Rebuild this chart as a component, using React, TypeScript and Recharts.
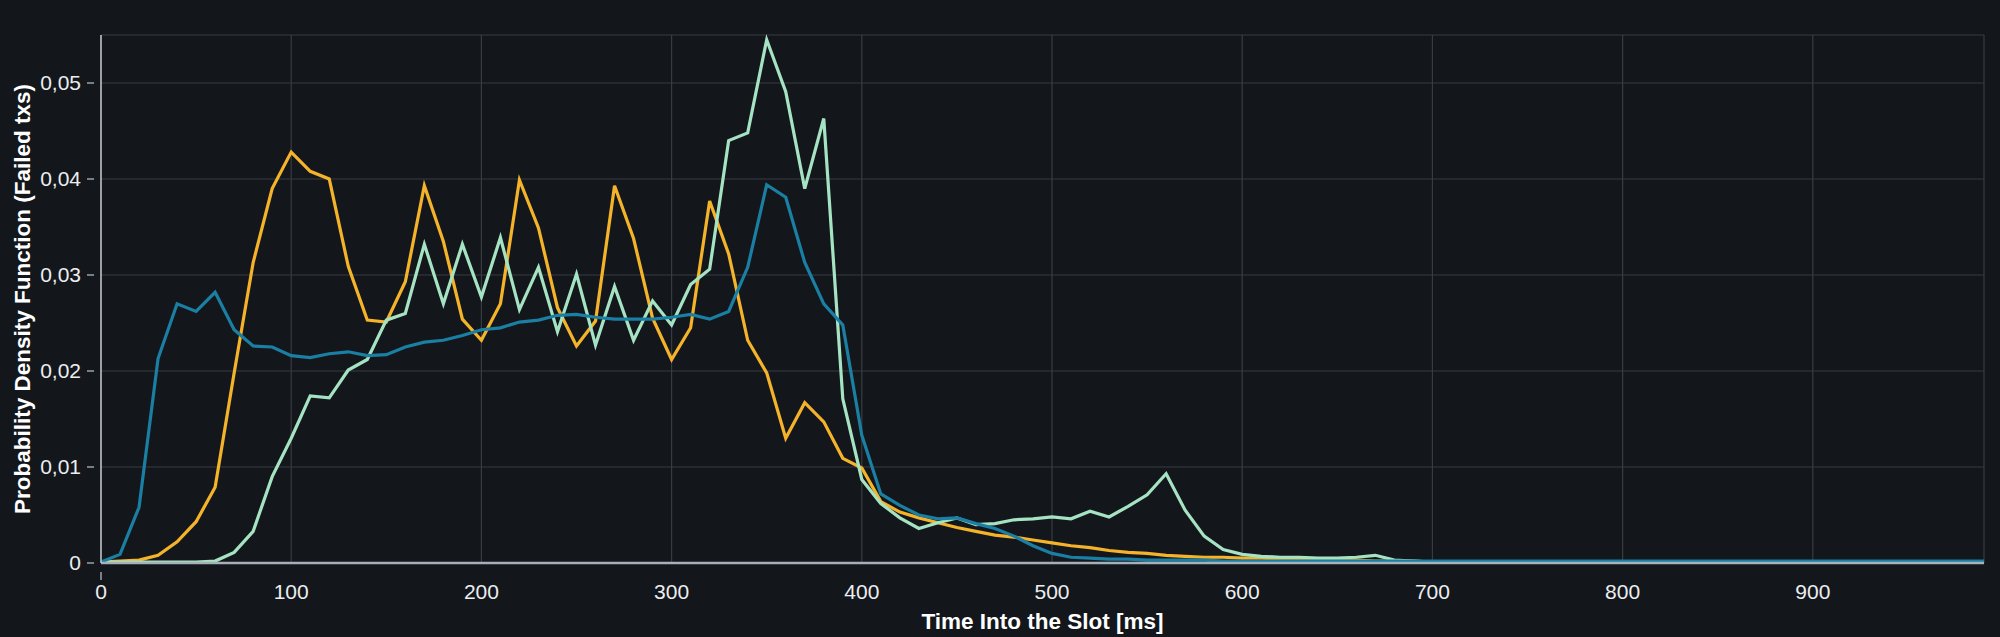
import React from "react";
import { CartesianGrid, Label, Line, LineChart, XAxis, YAxis } from "recharts";

// time bins, 10 ms wide
const timeMs = [
  0, 10, 20, 30, 40, 50, 60, 70, 80, 90,
  100, 110, 120, 130, 140, 150, 160, 170, 180, 190,
  200, 210, 220, 230, 240, 250, 260, 270, 280, 290,
  300, 310, 320, 330, 340, 350, 360, 370, 380, 390,
  400, 410, 420, 430, 440, 450, 460, 470, 480, 490,
  500, 510, 520, 530, 540, 550, 560, 570, 580, 590,
  600, 610, 620, 630, 640, 650, 660, 670, 680, 690,
  700, 710, 720, 730, 740, 750, 760, 770, 780, 790,
  800, 810, 820, 830, 840, 850, 860, 870, 880, 890,
  900, 910, 920, 930, 940, 950, 960, 970, 980, 990,
];

const orangeSeries = [
  0.0001, 0.0002, 0.0003, 0.0008, 0.0022, 0.0043, 0.0079, 0.0198, 0.0313, 0.039,
  0.0428, 0.0408, 0.04, 0.0309, 0.0253, 0.0251, 0.0293, 0.0393, 0.0335, 0.0254,
  0.0232, 0.027, 0.0399, 0.0349, 0.0266, 0.0226, 0.0252, 0.0393, 0.0338, 0.0255,
  0.0212, 0.0245, 0.0377, 0.0322, 0.0232, 0.0198, 0.013, 0.0167, 0.0147, 0.0109,
  0.0099, 0.0064, 0.0053, 0.0047, 0.0042, 0.0037, 0.0033, 0.0029, 0.0027, 0.0024,
  0.0021, 0.0018, 0.0016, 0.0013, 0.0011, 0.001, 0.0008, 0.0007, 0.0006, 0.0006,
  0.0005, 0.0005, 0.0004, 0.0004, 0.0003, 0.0003, 0.0003, 0.0002, 0.0002, 0.0002,
  0.0001, 0.0001, 0.0001, 0.0001, 0.0001, 0.0001, 0.0001, 0.0001, 0.0001, 0.0001,
  0.0001, 0.0001, 0.0001, 0.0001, 0.0001, 0.0001, 0.0001, 0.0001, 0.0001, 0.0001,
  0.0001, 0.0001, 0.0001, 0.0001, 0.0001, 0.0001, 0.0001, 0.0001, 0.0001, 0.0001,
];

const greenSeries = [
  0.0001, 0.0001, 0.0001, 0.0001, 0.0001, 0.0001, 0.0002, 0.0011, 0.0033, 0.009,
  0.013, 0.0174, 0.0172, 0.0201, 0.0212, 0.0253, 0.026, 0.0332, 0.027, 0.0332,
  0.0277, 0.0339, 0.0264, 0.0308, 0.0241, 0.0301, 0.0227, 0.0288, 0.0232, 0.0273,
  0.0248, 0.029, 0.0306, 0.044, 0.0448, 0.0545, 0.0491, 0.039, 0.0463, 0.0171,
  0.0087, 0.0062, 0.0047, 0.0036, 0.0042, 0.0047, 0.004, 0.0041, 0.0045, 0.0046,
  0.0048, 0.0046, 0.0054, 0.0048, 0.0059, 0.0071, 0.0093, 0.0055, 0.0028, 0.0014,
  0.0009, 0.0007, 0.0006, 0.0006, 0.0005, 0.0005, 0.0006, 0.0008, 0.0003, 0.0002,
  0.0001, 0.0001, 0.0001, 0.0001, 0.0001, 0.0001, 0.0001, 0.0001, 0.0001, 0.0001,
  0.0001, 0.0001, 0.0001, 0.0001, 0.0001, 0.0001, 0.0001, 0.0001, 0.0001, 0.0001,
  0.0001, 0.0001, 0.0001, 0.0001, 0.0001, 0.0001, 0.0001, 0.0001, 0.0001, 0.0001,
];

const blueSeries = [
  0.0001, 0.0009, 0.0058, 0.0213, 0.027, 0.0262, 0.0282, 0.0243, 0.0226, 0.0225,
  0.0216, 0.0214, 0.0218, 0.022, 0.0216, 0.0217, 0.0225, 0.023, 0.0232, 0.0237,
  0.0243, 0.0245, 0.0251, 0.0253, 0.0258, 0.0259, 0.0256, 0.0254, 0.0254, 0.0254,
  0.0256, 0.0259, 0.0254, 0.0262, 0.0308, 0.0394, 0.0381, 0.0313, 0.027, 0.0248,
  0.0133, 0.0072, 0.006, 0.005, 0.0046, 0.0047, 0.0041, 0.0036, 0.0028, 0.0018,
  0.001, 0.0006, 0.0005, 0.0004, 0.0004, 0.0003, 0.0003, 0.0003, 0.0003, 0.0002,
  0.0002, 0.0002, 0.0002, 0.0002, 0.0002, 0.0002, 0.0002, 0.0002, 0.0002, 0.0002,
  0.0002, 0.0002, 0.0002, 0.0002, 0.0002, 0.0002, 0.0002, 0.0002, 0.0002, 0.0002,
  0.0002, 0.0002, 0.0002, 0.0002, 0.0002, 0.0002, 0.0002, 0.0002, 0.0002, 0.0002,
  0.0002, 0.0002, 0.0002, 0.0002, 0.0002, 0.0002, 0.0002, 0.0002, 0.0002, 0.0002,
];

const xTicks = [0, 100, 200, 300, 400, 500, 600, 700, 800, 900];
const yTicks = [0, 0.01, 0.02, 0.03, 0.04, 0.05];

const data = timeMs.map((t, i) => ({
  t,
  orange: orangeSeries[i],
  green: greenSeries[i],
  blue: blueSeries[i],
}));

const FONT = '"Liberation Sans", Arial, Helvetica, sans-serif';
const TEXT = "#eceef0";

const fmtY = (v: number) => (v === 0 ? "0" : v.toFixed(2).replace(".", ","));

const XTick = (props: any) => {
  const { x, y, payload } = props;
  return (
    <g>
      {payload.value === 0 && (
        <line x1={x} x2={x} y1={y + 1} y2={y + 9} stroke="#9aa3ab" strokeWidth={1.5} />
      )}
      <text x={x} y={y + 28} textAnchor="middle" fill={TEXT} fontSize={21} fontFamily={FONT}>
        {payload.value}
      </text>
    </g>
  );
};

const YTick = (props: any) => {
  const { x, y, payload } = props;
  return (
    <g>
      <line x1={x - 6} x2={x + 1} y1={y} y2={y} stroke="#9aa3ab" strokeWidth={1.5} />
      <text x={x - 12} y={y} dy="0.35em" textAnchor="end" fill={TEXT} fontSize={21} fontFamily={FONT}>
        {fmtY(payload.value)}
      </text>
    </g>
  );
};

export default function App() {
  return (
    <div style={{ position: "absolute", left: 0, top: 0, width: 2000, height: 637, background: "#13171c" }}>
      <LineChart width={2000} height={637} data={data} margin={{ top: 35, right: 16, bottom: 0, left: 0 }}>
        <CartesianGrid stroke="#383d43" strokeWidth={1.2} />
        <XAxis
          dataKey="t"
          type="number"
          domain={[0, 990]}
          ticks={xTicks}
          height={74}
          tickSize={6}
          tickMargin={2}
          tickLine={false}
          axisLine={{ stroke: "#a6b0b8", strokeWidth: 2.5 }}
          tick={<XTick />}
        >
          <Label
            content={(p: any) => (
              <text
                x={p.viewBox.x + p.viewBox.width / 2}
                y={p.viewBox.y + 66}
                textAnchor="middle"
                fill="#ffffff"
                fontSize={22.5}
                fontWeight="bold"
                fontFamily={FONT}
              >
                Time Into the Slot [ms]
              </text>
            )}
          />
        </XAxis>
        <YAxis
          type="number"
          domain={[0, 0.055]}
          ticks={yTicks}
          width={101}
          tickSize={6}
          tickMargin={2}
          tickLine={false}
          axisLine={{ stroke: "#c3c9ce", strokeWidth: 1.5 }}
          tick={<YTick />}
        >
          <Label
            content={(p: any) => {
              const cx = 22;
              const cy = p.viewBox.y + p.viewBox.height / 2;
              return (
                <text
                  x={cx}
                  y={cy}
                  dy="0.35em"
                  transform={`rotate(-90 ${cx} ${cy})`}
                  textAnchor="middle"
                  fill="#ffffff"
                  fontSize={22.5}
                  fontWeight="bold"
                  fontFamily={FONT}
                >
                  Probability Density Function (Failed txs)
                </text>
              );
            }}
          />
        </YAxis>
        <Line type="linear" dataKey="orange" stroke="#f5b32a" strokeWidth={3.2} dot={false} isAnimationActive={false} />
        <Line type="linear" dataKey="green" stroke="#a6e3c3" strokeWidth={3.2} dot={false} isAnimationActive={false} />
        <Line type="linear" dataKey="blue" stroke="#1a7fa3" strokeWidth={3.2} dot={false} isAnimationActive={false} />
      </LineChart>
    </div>
  );
}
